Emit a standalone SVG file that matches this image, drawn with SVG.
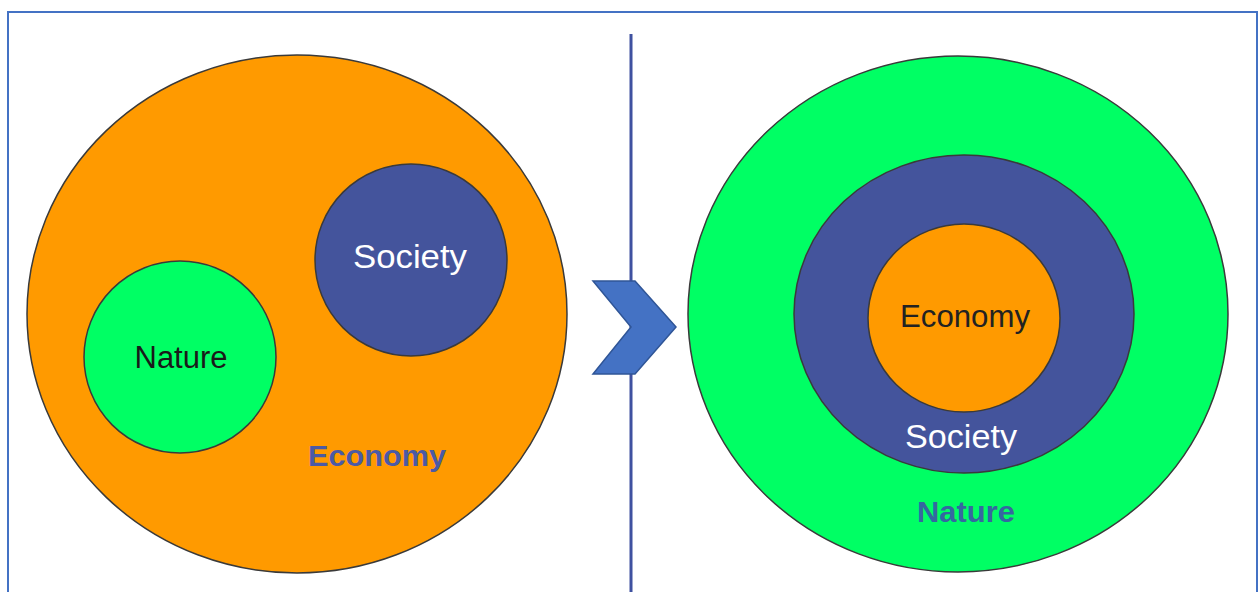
<svg xmlns="http://www.w3.org/2000/svg" width="1258" height="592" viewBox="0 0 1258 592">
<style>
.c{stroke:#3a3a3a;stroke-width:1.5}
.or{fill:#FF9A00}
.gr{fill:#00FF64}
.bl{fill:#44549C}
text{font-family:"Liberation Sans",Arial,sans-serif;text-anchor:middle}
.lbl{font-size:31px}
.soc{font-size:33px}
.bold{font-size:29px;font-weight:bold}
</style>
<rect x="0" y="0" width="1258" height="592" fill="#ffffff"/>
<rect x="8" y="12" width="1249" height="600" fill="none" stroke="#4472C4" stroke-width="2"/>
<g id="connectors">
<line x1="631" y1="34" x2="631" y2="592" stroke="#3F51A0" stroke-width="3"/>
<polygon id="arrow" points="593,281 635,281 676,327 635,374 593,374 631,327" fill="#4472C4" stroke="#2F5597" stroke-width="1.5"/>
</g>
<g id="left-economy">
<ellipse class="c or" cx="297" cy="314" rx="270" ry="259"/>
<text class="bold" x="377" y="466" fill="#4B5AA5" textLength="138" lengthAdjust="spacingAndGlyphs">Economy</text>
</g>
<g id="left-nature">
<circle class="c gr" cx="180" cy="357" r="96"/>
<text class="lbl" x="181" y="368" fill="#1a1a1a" textLength="93" lengthAdjust="spacingAndGlyphs">Nature</text>
</g>
<g id="left-society">
<circle class="c bl" cx="411" cy="260" r="96"/>
<text class="soc" x="410" y="268" fill="#ffffff" textLength="114" lengthAdjust="spacingAndGlyphs">Society</text>
</g>
<g id="right-nature">
<ellipse class="c gr" cx="958" cy="314" rx="270" ry="258"/>
<text class="bold" x="966" y="522" fill="#3568A0" textLength="98" lengthAdjust="spacingAndGlyphs">Nature</text>
</g>
<g id="right-society">
<ellipse class="c bl" cx="964" cy="314" rx="170" ry="159"/>
<text class="soc" x="961" y="448" fill="#ffffff" textLength="112" lengthAdjust="spacingAndGlyphs">Society</text>
</g>
<g id="right-economy">
<ellipse class="c or" cx="964" cy="318" rx="96" ry="94"/>
<text class="lbl" x="965" y="327" fill="#222222" textLength="130" lengthAdjust="spacingAndGlyphs">Economy</text>
</g>
</svg>
